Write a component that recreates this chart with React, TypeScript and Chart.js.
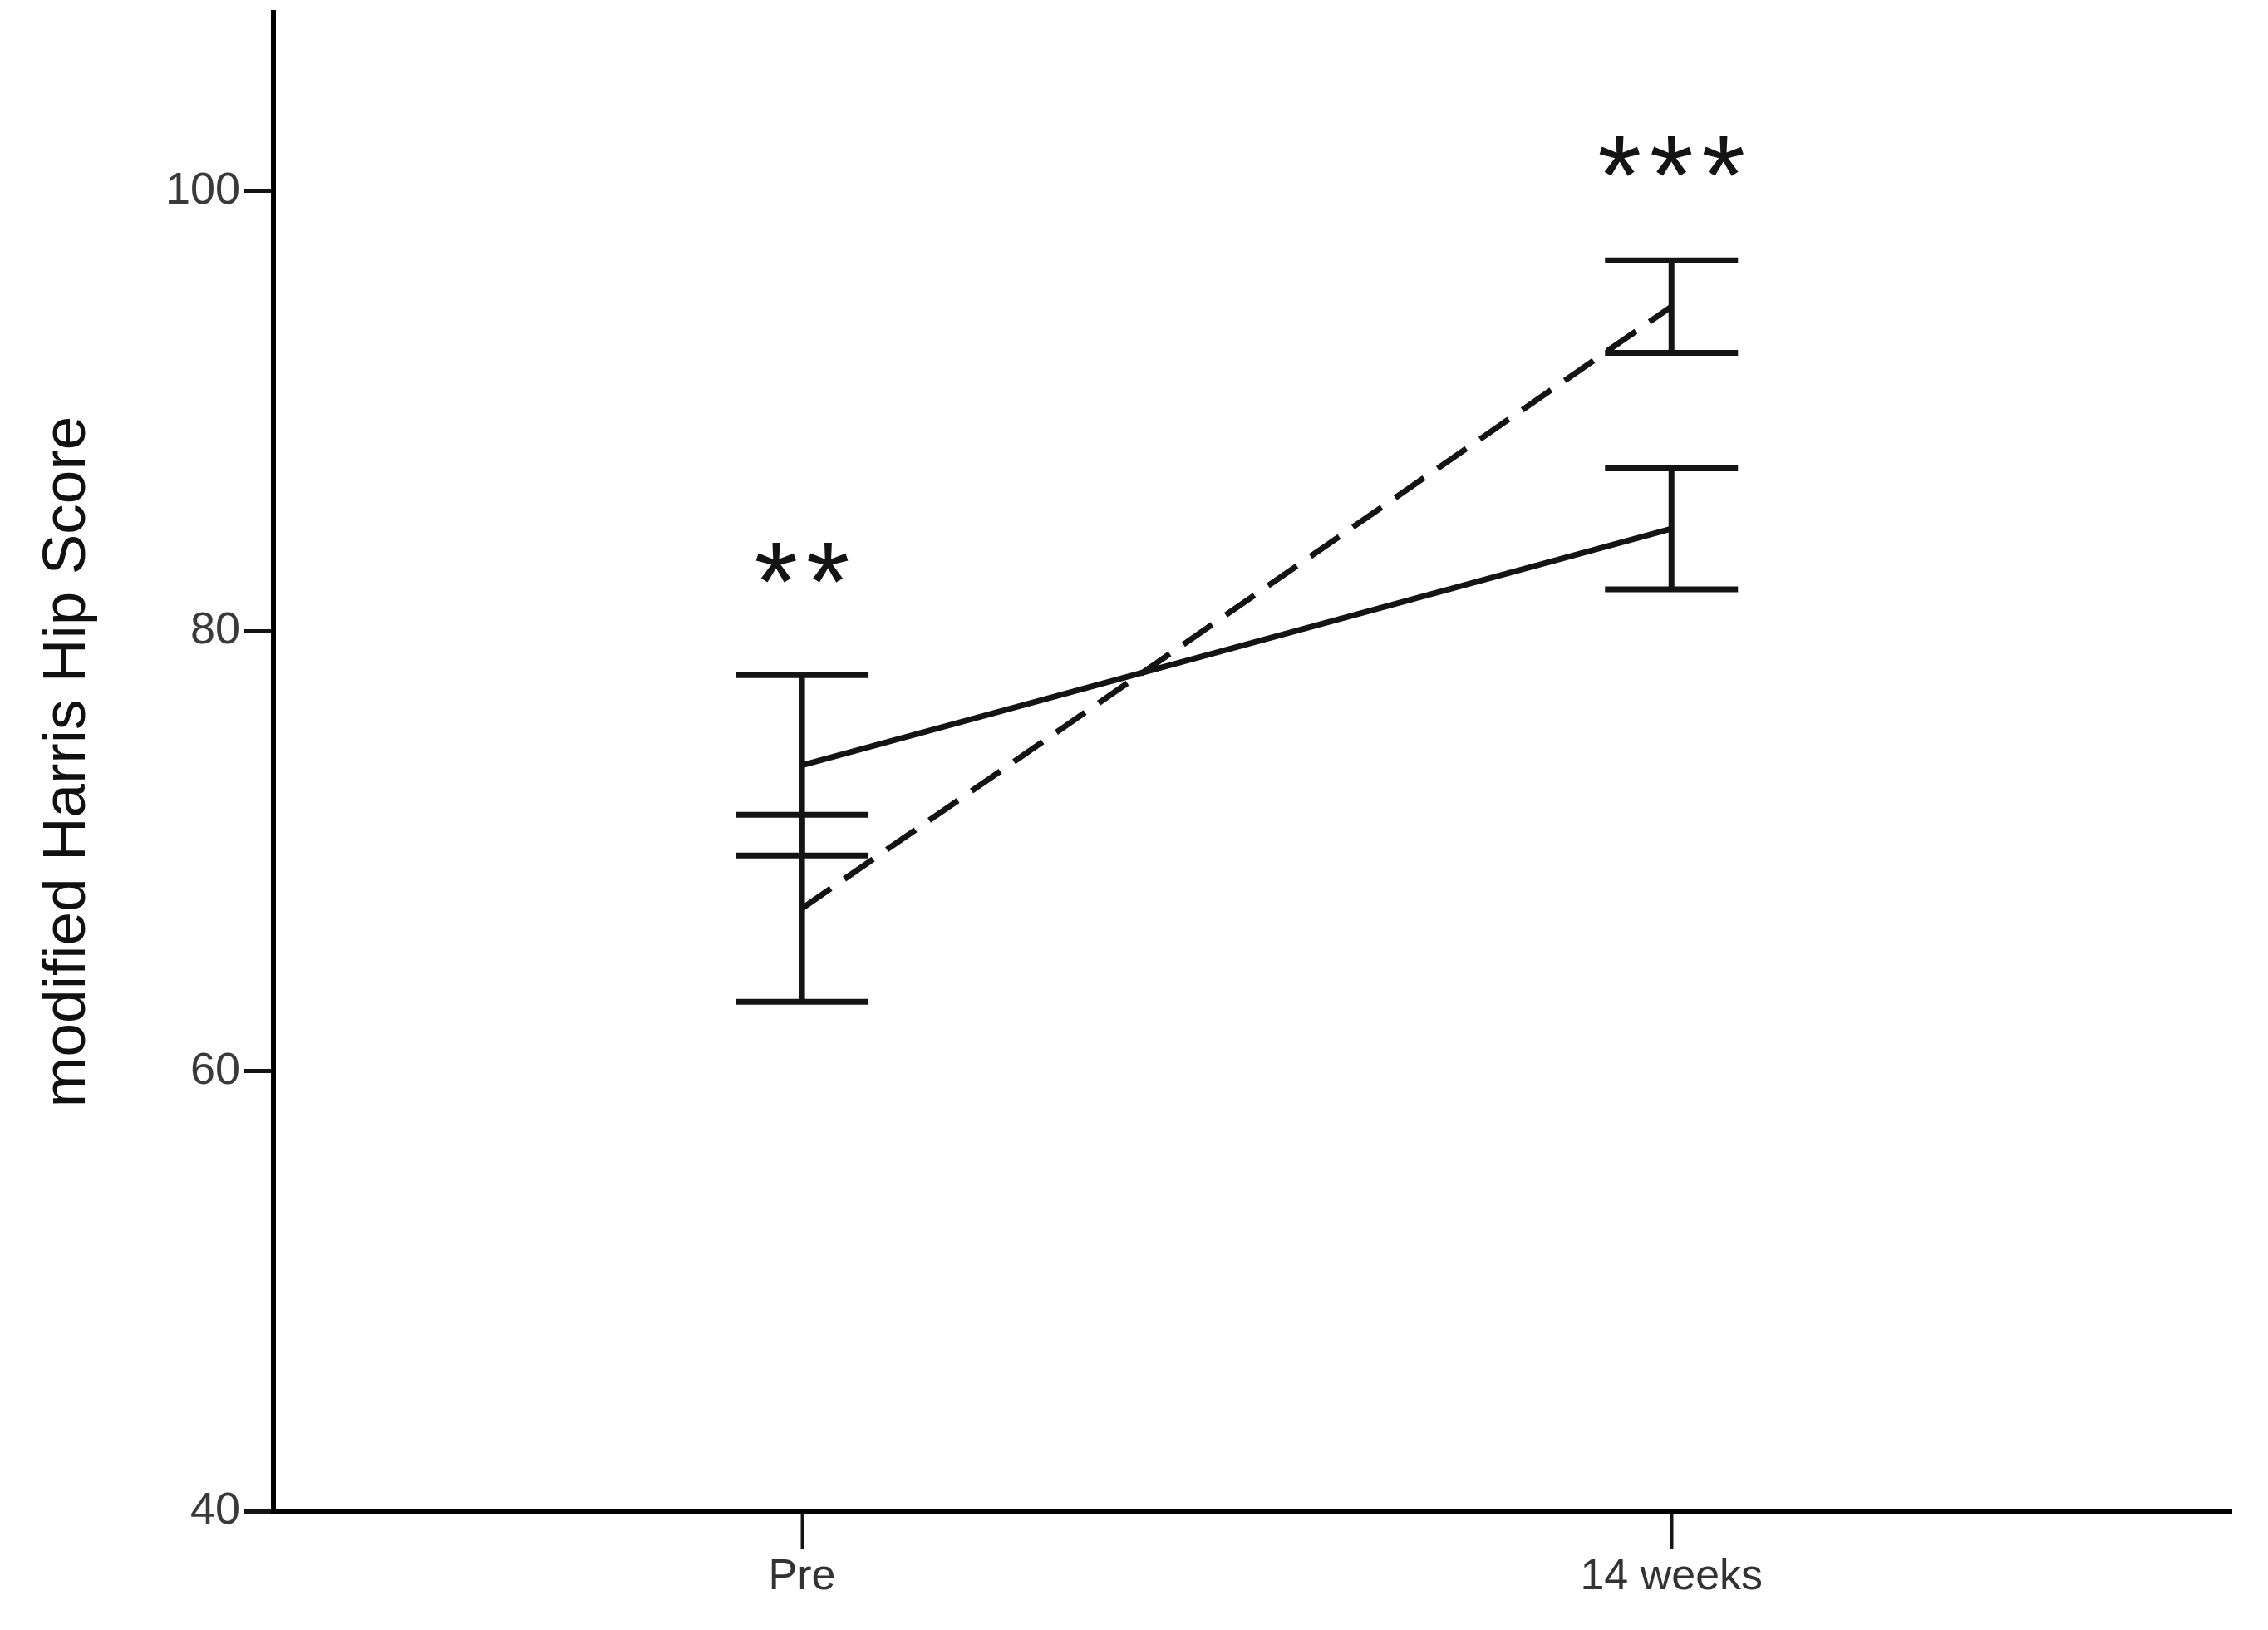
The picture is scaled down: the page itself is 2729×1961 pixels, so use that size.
import React, { useEffect, useRef } from "react";
import { Chart, registerables } from "chart.js";

Chart.register(...registerables);

// ---- data ----
const categories = ["Pre", "14 weeks"];
const categoryX = [1, 2];
const solidMean = [73.9, 84.65];
const solidErr = [4.1, 2.75];
const dashedMean = [67.4, 94.75];
const dashedErr = [4.25, 2.1];
const yTickValues = [40, 60, 80, 100];
const sigLabels = ["**", "***"];
const sigY = [83.1, 101.6];
const yTitle = "modified Harris Hip Score";

const FONT = "'Liberation Sans', Arial, sans-serif";
const INK = "#141414";

const errorBarPlugin = {
  id: "errorBars",
  afterDatasetsDraw(chart: any) {
    const { ctx, scales } = chart;
    const x = scales.x;
    const y = scales.y;
    const capHalf = 80;
    ctx.save();
    ctx.strokeStyle = INK;
    ctx.lineWidth = 7;
    ctx.lineCap = "butt";
    const groups: [number[], number[]][] = [
      [solidMean, solidErr],
      [dashedMean, dashedErr],
    ];
    groups.forEach(([m, e]) => {
      m.forEach((v, i) => {
        const px = x.getPixelForValue(categoryX[i]);
        const top = y.getPixelForValue(v + e[i]);
        const bot = y.getPixelForValue(v - e[i]);
        ctx.beginPath();
        ctx.moveTo(px, top);
        ctx.lineTo(px, bot);
        ctx.moveTo(px - capHalf, top);
        ctx.lineTo(px + capHalf, top);
        ctx.moveTo(px - capHalf, bot);
        ctx.lineTo(px + capHalf, bot);
        ctx.stroke();
      });
    });
    ctx.restore();
  },
};

const sigPlugin = {
  id: "sigMarks",
  afterDraw(chart: any) {
    const { ctx, scales } = chart;
    const x = scales.x;
    const y = scales.y;
    const spacing = 10;
    ctx.save();
    ctx.fillStyle = INK;
    ctx.font = `135px ${FONT}`;
    (ctx as any).letterSpacing = `${spacing}px`;
    ctx.textAlign = "center";
    ctx.textBaseline = "alphabetic";
    sigLabels.forEach((t, i) => {
      const m = ctx.measureText(t);
      const A = m.actualBoundingBoxAscent;
      const D = m.actualBoundingBoxDescent;
      const cy = y.getPixelForValue(sigY[i]);
      const baseline = cy - (D - A) / 2;
      ctx.fillText(t, x.getPixelForValue(categoryX[i]) + spacing / 2, baseline);
    });
    ctx.restore();
  },
};

export default function App() {
  const ref = useRef<HTMLCanvasElement | null>(null);

  useEffect(() => {
    if (!ref.current) return;
    const chart = new Chart(ref.current, {
      type: "line",
      data: {
        datasets: [
          {
            label: "solid",
            data: categoryX.map((xv, i) => ({ x: xv, y: solidMean[i] })),
            borderColor: INK,
            borderWidth: 7,
            pointRadius: 0,
            fill: false,
            tension: 0,
          },
          {
            label: "dashed",
            data: categoryX.map((xv, i) => ({ x: xv, y: dashedMean[i] })),
            borderColor: INK,
            borderWidth: 7,
            borderDash: [42, 20],
            pointRadius: 0,
            fill: false,
            tension: 0,
          },
        ],
      },
      options: {
        animation: false,
        responsive: false,
        devicePixelRatio: 1,
        layout: { padding: { top: 15, right: 44, bottom: 0, left: 0 } },
        plugins: {
          legend: { display: false },
          tooltip: { enabled: false },
        },
        scales: {
          x: {
            type: "linear",
            min: 0.392,
            max: 2.644,
            afterBuildTicks: (scale: any) => {
              scale.ticks = categoryX.map((v) => ({ value: v }));
            },
            afterFit: (scale: any) => {
              scale.height = 143;
              scale.paddingLeft = 0;
              scale.paddingRight = 0;
            },
            ticks: {
              callback: (v: any) => {
                const idx = categoryX.indexOf(Number(v));
                return idx >= 0 ? categories[idx] : "";
              },
              font: { family: FONT, size: 52 },
              color: "#333333",
              padding: 2,
              maxRotation: 0,
              autoSkip: false,
            },
            grid: {
              drawOnChartArea: false,
              drawTicks: true,
              tickLength: 46,
              tickWidth: 4,
              tickColor: INK,
              color: INK,
            },
            border: { display: true, color: "#000", width: 6 },
          },
          y: {
            type: "linear",
            min: 40,
            max: 108.12,
            afterBuildTicks: (scale: any) => {
              scale.ticks = yTickValues.map((v) => ({ value: v }));
            },
            afterFit: (scale: any) => {
              scale.width = 329;
              scale.paddingTop = 0;
              scale.paddingBottom = 0;
            },
            ticks: {
              font: { family: FONT, size: 54 },
              color: "#3a3a3a",
              padding: 5,
            },
            grid: {
              drawOnChartArea: false,
              drawTicks: true,
              tickLength: 35,
              tickWidth: 5,
              tickColor: INK,
              color: INK,
            },
            border: { display: true, color: "#000", width: 6 },
            title: {
              display: true,
              text: yTitle,
              font: { family: FONT, size: 73 },
              color: "#111111",
              padding: { top: 38, bottom: 0 },
            },
          },
        },
      },
      plugins: [errorBarPlugin, sigPlugin],
    } as any);
    return () => chart.destroy();
  }, []);

  return (
    <div style={{ position: "fixed", left: 0, top: 0, width: 2729, height: 1961, background: "#fff" }}>
      <canvas ref={ref} width={2729} height={1961} style={{ display: "block", width: 2729, height: 1961 }} />
    </div>
  );
}
